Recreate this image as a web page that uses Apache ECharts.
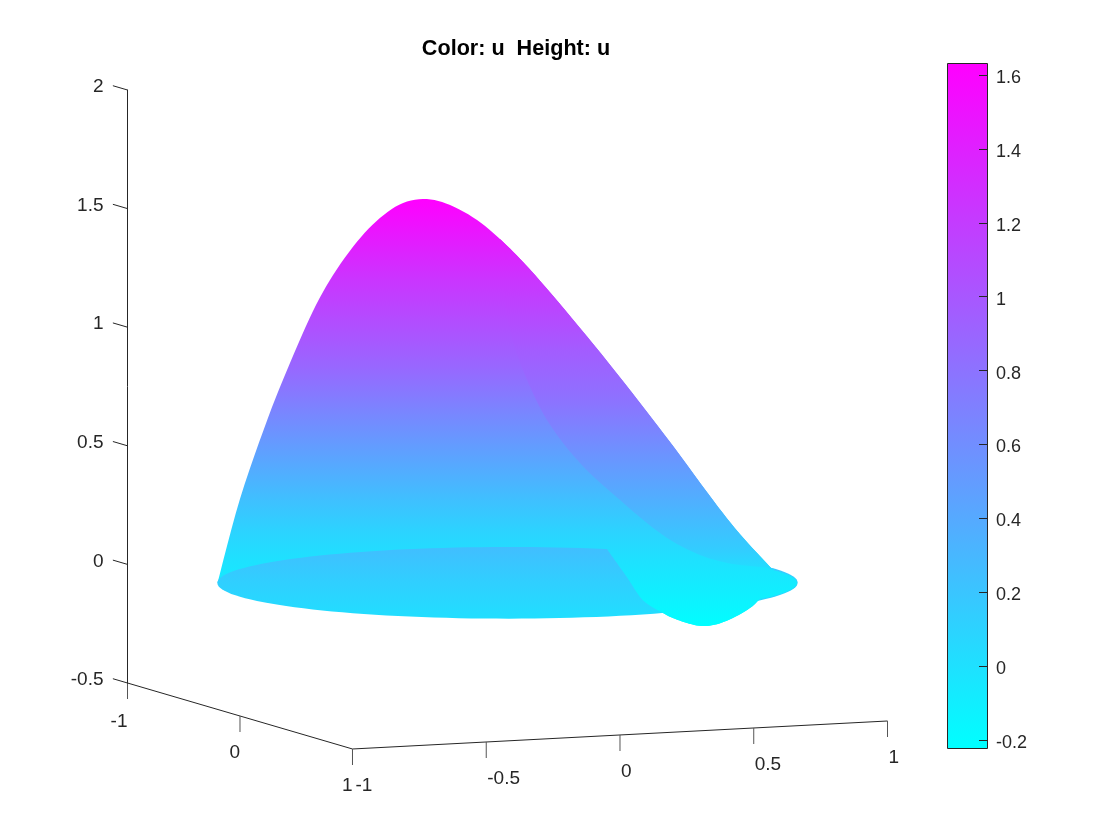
<!DOCTYPE html>
<html>
<head>
<meta charset="utf-8">
<style>html,body{margin:0;padding:0;background:#fff}#c{width:1120px;height:840px}</style>
<script src="https://cdn.jsdelivr.net/npm/echarts@6/dist/echarts.min.js"></script>
</head>
<body>
<div id="c"></div>
<script>
// Axis values
const xTicks = [-1, -0.5, 0, 0.5, 1];
const yTicks = [-1, 0, 1];
const zTicks = [-0.5, 0, 0.5, 1, 1.5, 2];
const cbTicks = [-0.2, 0, 0.2, 0.4, 0.6, 0.8, 1, 1.2, 1.4, 1.6];
const uMin = -0.2217, uMax = 1.6325;

// Surface outlines: h = position across the view, v = height on the z axis scale
const crestH = [-1.000,-0.922,-0.826,-0.750,-0.671,-0.602,-0.519,-0.440,-0.360,-0.278,-0.198,-0.105,-0.026,0.043,0.112,0.250,0.398,0.571,0.709,0.802,0.916];
const crestV = [-0.078,0.278,0.617,0.849,1.067,1.219,1.360,1.460,1.524,1.540,1.515,1.452,1.372,1.289,1.196,0.997,0.773,0.499,0.270,0.127,-0.024];
const tipH = [0.916,0.940,0.984,0.998,0.981,0.929,0.870];
const tipV = [-0.024,-0.032,-0.054,-0.079,-0.104,-0.129,-0.146];
const dipH = [0.870,0.836,0.777,0.722,0.670,0.619,0.570,0.536,0.467,0.412,0.370,0.343];
const dipV = [-0.146,-0.184,-0.226,-0.252,-0.260,-0.247,-0.226,-0.205,-0.151,-0.054,0.018,0.064];
const dipFrontCount = 8; // first dip points that lie on the outer edge of the surface
const dipTopH = [0.343,0.491,0.664,0.836,0.916];
const dipTopV = [0.064,0.069,0.052,0.018,-0.024];
const foldH = [-0.026,-0.016,0.009,0.053,0.136,0.250,0.388,0.526,0.640,0.757,0.905,0.916];
const foldV = [1.372,1.157,0.988,0.820,0.609,0.427,0.271,0.132,0.052,0.006,-0.015,-0.024];
const foldCrestFrom = 12; // crest index where the fold leaves the outline

// Colour value u against height v on each sheet
const mainV = [1.540,1.199,0.832,0.608,0.271,0.132,0.018,-0.151,-0.260];
const mainU = [1.64,1.25,0.88,0.62,0.24,0.09,0.0,-0.13,-0.216];
const foldSheetV = [1.540,1.199,0.903,0.693,0.271,0.060,-0.024];
const foldSheetU = [1.64,1.25,0.96,0.80,0.36,0.14,0.02];
const diskV = [0.069,-0.075,-0.222];
const diskU = [0.25,0.13,0.02];
const rimDegrees = [0,15,30,45,60,75,90,105,120,135,150,165,180,195,210,225,240,255,270,285,300,315,330,345];
const rimHeight = 0.0025;

// Fixed view of the 3-D box
function project(x, y, z) {
  return [0.9224 * x + 0.3879 * y, z + 0.0590 * x - 0.1391 * y - 0.0801];
}
const viewH = 1.3103;
const FAMILY = '"Liberation Sans", Arial, sans-serif';
const INK = '#262626';

function cool(u) {
  const c = Math.max(0, Math.min(1, (u - uMin) / (uMax - uMin)));
  return 'rgb(' + Math.round(255 * c) + ',' + Math.round(255 * (1 - c)) + ',255)';
}
function spline(pts, n) {
  const out = [];
  for (let i = 0; i < pts.length - 1; i++) {
    const p0 = pts[Math.max(0, i - 1)], p1 = pts[i], p2 = pts[i + 1], p3 = pts[Math.min(pts.length - 1, i + 2)];
    for (let k = 0; k < n; k++) {
      const t = k / n, t2 = t * t, t3 = t2 * t;
      out.push([0, 1].map(j => 0.5 * (2 * p1[j] + (p2[j] - p0[j]) * t + (2 * p0[j] - 5 * p1[j] + 4 * p2[j] - p3[j]) * t2 + (3 * p1[j] - p0[j] - 3 * p2[j] + p3[j]) * t3)));
    }
  }
  out.push(pts[pts.length - 1]);
  return out;
}
function curve(api, hs, vs) {
  return spline(hs.map((h, i) => api.coord([h, vs[i]])), 6);
}
function sheetFill(api, vs, us) {
  const top = Math.max(...vs), bottom = Math.min(...vs);
  const a = api.coord([0, top]), b = api.coord([0, bottom]);
  const stops = vs.map((v, i) => ({ offset: (top - v) / (top - bottom), color: cool(us[i]) }));
  return new echarts.graphic.LinearGradient(a[0], a[1], b[0], b[1], stops, true);
}
function sheet(outline, vs, us, z) {
  return {
    type: 'custom', coordinateSystem: 'cartesian2d', xAxisIndex: 0, yAxisIndex: 0,
    silent: true, z: z, data: [0], clip: false,
    renderItem: function (params, api) {
      return { type: 'polygon', shape: { points: outline(api) }, style: { fill: sheetFill(api, vs, us) } };
    }
  };
}
const mainOutline = api => [].concat(curve(api, crestH, crestV), curve(api, tipH, tipV), curve(api, dipH.slice(0, dipFrontCount), dipV.slice(0, dipFrontCount)));
const dipOutline = api => [].concat(curve(api, tipH, tipV), curve(api, dipH, dipV), curve(api, dipTopH, dipTopV));
const foldOutline = api => [].concat(curve(api, foldH, foldV), curve(api, crestH.slice(foldCrestFrom), crestV.slice(foldCrestFrom)).reverse());
const rimOutline = api => {
  const pts = rimDegrees.concat(rimDegrees.slice(0, 3)).map(d => {
    const r = d * Math.PI / 180;
    return api.coord(project(Math.cos(r), Math.sin(r), rimHeight));
  });
  return spline(pts, 6).slice(6, 6 * 25);
};

function boxAxes(params, api) {
  const kids = [];
  const line = (a, b, color) => kids.push({
    type: 'line', shape: { x1: a[0], y1: a[1], x2: b[0], y2: b[1] },
    style: { stroke: color, lineWidth: 1 }
  });
  const label = (p, text, align, dy) => kids.push({
    type: 'text', x: p[0], y: p[1] + dy,
    style: { text: text, font: '19px ' + FAMILY, fill: INK, align: align, verticalAlign: 'middle' }
  });
  const at = (x, y, z) => api.coord(project(x, y, z));
  line(at(-1, 1, -0.5), at(1, 1, -0.5), INK);
  line(at(-1, -1, -0.5), at(-1, 1, -0.5), INK);
  xTicks.forEach(x => {
    line(at(x, 1, -0.5), at(x, 1, -0.5675), '#555');
    const p = at(x, 1, -0.5);
    label([p[0] + (x === -1 ? 3 : 1), p[1]], String(x), 'left', 36.5);
  });
  yTicks.forEach(y => {
    line(at(-1, y, -0.5), at(-1, y, -0.5675), '#555');
    const p = at(-1, y, -0.5);
    label(p, String(y), 'right', y === -1 ? 38.5 : 37);
  });
  zTicks.forEach(z => line(at(-1, -1, z), at(-1, -1.13, z), INK));
  return { type: 'group', children: kids };
}
function colorBar(params, api) {
  const a = api.coord([0, uMax]), b = api.coord([1, uMin]);
  return {
    type: 'rect',
    shape: { x: a[0] + 0.5, y: a[1] + 0.5, width: b[0] - a[0], height: b[1] - a[1] },
    style: {
      fill: new echarts.graphic.LinearGradient(0, a[1], 0, b[1], [
        { offset: 0, color: cool(uMax) }, { offset: 1, color: cool(uMin) }
      ], true),
      stroke: INK, lineWidth: 1
    }
  };
}

const chart = echarts.init(document.getElementById('c'), null, { renderer: 'canvas' });
chart.setOption({
  animation: false,
  backgroundColor: '#ffffff',
  title: {
    text: 'Color: u  Height: u', left: 511, top: 33, textAlign: 'center',
    textStyle: { fontFamily: FAMILY, fontSize: 21.6, fontWeight: 'bold', color: '#000' }
  },
  tooltip: { show: false },
  grid: [
    { left: 127.5, width: 760, top: 90, height: 593 },
    { left: 947, width: 40, top: 63, height: 685 }
  ],
  xAxis: [
    { type: 'value', gridIndex: 0, min: -viewH, max: viewH, show: false },
    { type: 'value', gridIndex: 1, min: 0, max: 1, show: false }
  ],
  yAxis: [
    {
      type: 'value', gridIndex: 0, min: -0.5, max: 2, interval: 0.5, position: 'left', z: 10,
      axisLine: { show: true, onZero: false, lineStyle: { color: INK, width: 1 } },
      axisTick: { show: false }, splitLine: { show: false },
      axisLabel: {
        show: true, margin: 24, color: INK, fontSize: 19, fontFamily: FAMILY,
        verticalAlign: 'bottom', lineHeight: 6, formatter: v => String(v)
      }
    },
    {
      type: 'value', gridIndex: 1, min: uMin, max: uMax, position: 'right', z: 10,
      axisLine: { show: false, onZero: false },
      axisTick: { show: true, inside: true, length: 8, lineStyle: { color: INK, width: 1 }, customValues: cbTicks },
      splitLine: { show: false },
      axisLabel: {
        show: true, margin: 9, color: INK, fontSize: 18, fontFamily: FAMILY,
        verticalAlign: 'top', lineHeight: 6,
        customValues: cbTicks, formatter: v => String(v), showMinLabel: true, showMaxLabel: true
      }
    }
  ],
  series: [
    sheet(mainOutline, mainV, mainU, 2),
    sheet(rimOutline, diskV, diskU, 3),
    sheet(dipOutline, mainV, mainU, 4),
    sheet(foldOutline, foldSheetV, foldSheetU, 5),
    { type: 'custom', coordinateSystem: 'cartesian2d', xAxisIndex: 0, yAxisIndex: 0, silent: true, z: 6, data: [0], clip: false, renderItem: boxAxes },
    { type: 'custom', coordinateSystem: 'cartesian2d', xAxisIndex: 1, yAxisIndex: 1, silent: true, z: 2, data: [0], clip: false, renderItem: colorBar }
  ]
});
</script>
</body>
</html>
